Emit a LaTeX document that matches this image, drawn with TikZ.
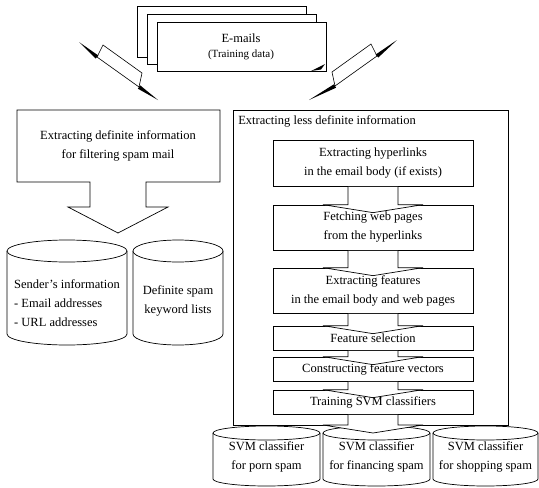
\documentclass[tikz,border=0pt]{standalone}
\usepackage{fontspec}
\setmainfont{Liberation Serif}
\usetikzlibrary{calc}
\newcommand\mycyl[5]{% cx rx top ry bottom
  \draw[fill=white] ({#1-#2},{#3+#4}) -- ({#1-#2},{#5-#4})
     arc[start angle=180,end angle=360,x radius=#2pt,y radius=#4pt] -- ({#1+#2},{#3+#4});
  \draw[fill=white] (#1,{#3+#4}) ellipse [x radius=#2pt, y radius=#4pt];
}
\newcommand\vblk[2]{% from node #1 to point #2
  \draw[fill=white] ($(#1.south)+(-25,0.5)$) -- ($(#1.south |- #2)+(-25,0)$)
    -- ($(#1.south |- #2)+(-50,0)$) -- ($(#1.south |- #2)+(0,8)$)
    -- ($(#1.south |- #2)+(50,0)$) -- ($(#1.south |- #2)+(25,0)$)
    -- ($(#1.south)+(25,0.5)$);
}
\begin{document}
\begin{tikzpicture}[x=1pt,y=-1pt,line width=0.7pt,
  txt/.style={font=\fontsize{12.5}{19}\selectfont, align=center, inner sep=0pt},
  smalltxt/.style={font=\fontsize{11}{13}\selectfont, inner sep=0pt},
  flowbox/.style={draw, fill=white, txt, minimum width=200pt},
]
\useasboundingbox (0,0) rectangle (539,488);

% ---- stack of e-mails
\draw[fill=white] (137,6) rectangle (306,57);
\draw[fill=white] (147,14) rectangle (316,64);
\draw[fill=white] (157,22) rectangle (326,71);
\node[txt] (emails) at (241,38) {E-mails};
\node[smalltxt] (training) at (241,55) {(Training data)};
\fill (311,71) -- (325,64) -- (321,69.5) -- cycle;

% ---- left bent arrow
\draw[fill=white,line width=0.6pt] (97,57) -- (103,45) -- (142,73) -- (139,87) -- cycle;
\fill (79,42) -- (98.3,55.5) -- (95.7,58.5) -- cycle;
\fill (140.1,85.3) -- (137.9,88.7) -- (158,100) -- cycle;

% ---- right bent arrow
\draw[fill=white,line width=0.6pt] (377,56) -- (371,44) -- (332,72) -- (335,86) -- cycle;
\fill (397,40) -- (375.7,54.5) -- (378.3,57.5) -- cycle;
\fill (333.9,84.3) -- (336.1,87.7) -- (309,100) -- cycle;

% ---- left block arrow
\draw[fill=white] (17,110) -- (220,110) -- (220,182) -- (146,182) -- (146,207)
   -- (168,207) -- (118,233) -- (68,207) -- (90,207) -- (90,182) -- (17,182) -- cycle;
\node[txt] (defbox) at (118,146) {Extracting definite information\\for filtering spam mail};

% ---- left cylinders
\mycyl{67}{60}{240}{11}{345}
\mycyl{178}{45}{240}{11}{345}
\node[txt, align=left] (sender) at (67,303) {Sender's information\\- Email addresses\\- URL addresses};
\node[txt] (keywords) at (178,301) {Definite spam\\keyword lists};

% ---- bottom cylinders
\mycyl{266.5}{53.5}{426}{7}{486}
\mycyl{376.5}{53.5}{426}{7}{486}
\mycyl{485.5}{52.5}{426}{7}{486}
\node[txt] (porn) at (266.5,457) {SVM classifier\\for porn spam};
\node[txt] (fin) at (376.5,457) {SVM classifier\\for financing spam};
\node[txt] (shop) at (485.5,457) {SVM classifier\\for shopping spam};

% ---- right box
\draw (233,110) rectangle (508,425);
\node[txt, anchor=west] (less) at (238,121) {Extracting less definite information};

\node[flowbox, minimum height=46pt] (b1) at (373,163) {Extracting hyperlinks\\in the email body (if exists)};
\node[flowbox, minimum height=45pt] (b2) at (373,227.5) {Fetching web pages\\from the hyperlinks};
\node[flowbox, minimum height=45pt] (b3) at (373,290.5) {Extracting features\\in the email body and web pages};
\node[flowbox, minimum height=24pt] (b4) at (373,338) {Feature selection};
\node[flowbox, minimum height=24pt] (b5) at (373,369) {Constructing feature vectors};
\node[flowbox, minimum height=24pt] (b6) at (373,402) {Training SVM classifiers};
\coordinate (rbot) at (373,425);

\vblk{b1}{b2.north}
\vblk{b2}{b3.north}
\vblk{b3}{b4.north}
\vblk{b4}{b5.north}
\vblk{b5}{b6.north}
\vblk{b6}{rbot}
\end{tikzpicture}
\end{document}
